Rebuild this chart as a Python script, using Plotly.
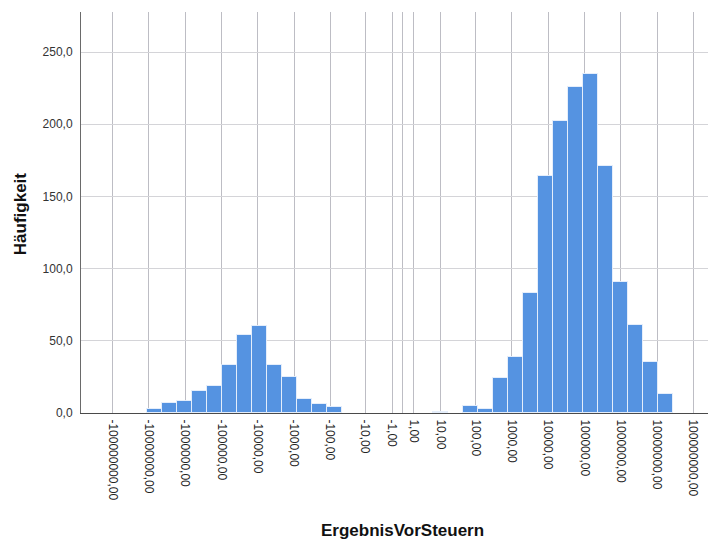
import math
import plotly.graph_objects as go

# ---- data ----
# histogram bins on a "safe log" scale: t = sign(x) * log10(1 + |x|)
bin_start_t = -7.06          # lower edge of the first bin (transformed units)
bin_width_t = 0.4145         # bin width (transformed units)
bin_index = [0, 1, 2, 3, 4, 5, 6, 7, 8, 9, 10, 11, 12,
             19,
             21, 22, 23, 24, 25, 26, 27, 28, 29, 30, 31, 32, 33, 34]
counts = [3, 7, 8, 15, 19, 33, 54, 60, 33, 25, 10, 6, 4,
          1,
          5, 3, 24, 39, 83, 164, 202, 226, 235, 171, 91, 61, 35, 13]
tick_values = [-1e8, -1e7, -1e6, -1e5, -1e4, -1e3, -100, -10, -1, 0,
               1, 10, 100, 1e3, 1e4, 1e5, 1e6, 1e7, 1e8]
x_title = "ErgebnisVorSteuern"
y_title = "Häufigkeit"


def safelog(v):
    return math.copysign(math.log10(1 + abs(v)), v) if v != 0 else 0.0


def fmt(v):
    return "" if v == 0 else f"{v:.2f}".replace(".", ",")


bar_x = [bin_start_t + (k + 0.5) * bin_width_t for k in bin_index]
tick_t = [safelog(v) for v in tick_values]
tick_text = [fmt(v) for v in tick_values]

fig = go.Figure(go.Bar(
    x=bar_x, y=counts, width=bin_width_t,
    marker=dict(color="#5593e1", line=dict(color="rgba(235,242,252,0.9)", width=1)),
    hoverinfo="x+y",
))

font_family = "Liberation Sans, Arial, sans-serif"

# the html page body has an 8px margin, so the figure is offset accordingly
fig.update_layout(
    width=708, height=531,
    margin=dict(l=73, r=0, t=4, b=126),
    paper_bgcolor="white", plot_bgcolor="white",
    separators=",.",
    showlegend=False,
    bargap=0,
    font=dict(family=font_family, size=12, color="#333333"),
    xaxis=dict(
        range=[-8.870, 8.623],
        tickmode="array", tickvals=tick_t, ticktext=tick_text,
        tickangle=90,
        showgrid=True, gridcolor="#bdbdc4", gridwidth=1,
        showline=True, linecolor="#4a4a4a", linewidth=1,
        zeroline=False, ticks="",
        ticklabelstandoff=3,
        automargin=False,
        tickfont=dict(family=font_family, size=12, color="#222222"),
    ),
    yaxis=dict(
        range=[0, 277.7],
        tickmode="array", tickvals=[0, 50, 100, 150, 200, 250],
        tickformat=".1f",
        showgrid=True, gridcolor="#d4d4d8", gridwidth=1,
        showline=True, linecolor="#6a6a6a", linewidth=1,
        zeroline=False, ticks="",
        ticklabelstandoff=5,
        automargin=False,
        tickfont=dict(family=font_family, size=12, color="#333333"),
    ),
    annotations=[
        dict(text=f"<b>{x_title}</b>", xref="paper", yref="paper",
             x=0.506, y=-0.292, xanchor="center", yanchor="middle",
             showarrow=False, font=dict(family=font_family, size=17, color="#111111")),
        dict(text=f"<b>{y_title}</b>", xref="paper", yref="paper",
             x=-0.1, y=0.497, xanchor="center", yanchor="middle", textangle=-90,
             xshift=3,
             showarrow=False, font=dict(family=font_family, size=17, color="#111111")),
    ],
)

fig.write_html("out.html")
